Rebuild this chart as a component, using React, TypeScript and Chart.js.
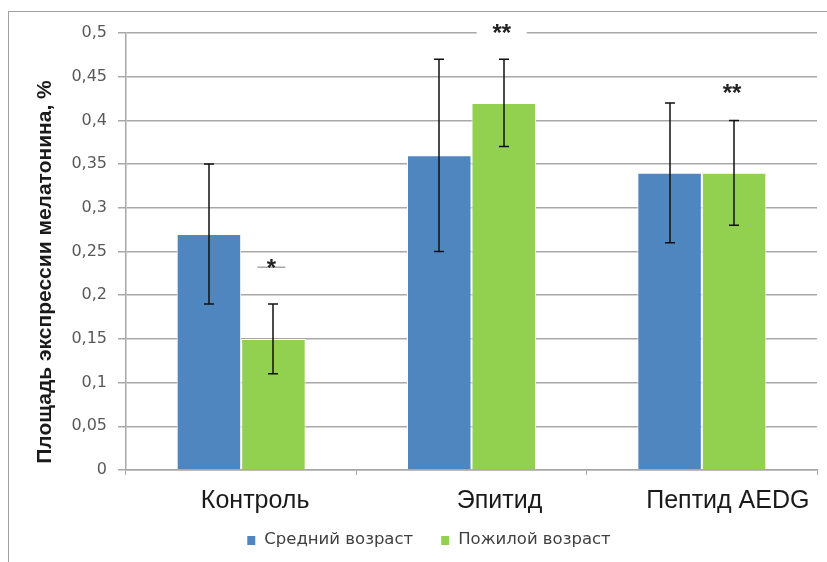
import React, { useEffect, useRef } from 'react';
import { Chart, registerables } from 'chart.js';

Chart.register(...registerables);

const categories = ['Контроль', 'Эпитид', 'Пептид AEDG'];
const seriesNames = ['Средний возраст', 'Пожилой возраст'];
const middleAge = [0.27, 0.36, 0.34];
const elderlyAge = [0.15, 0.42, 0.34];
const middleErrLow = [0.19, 0.25, 0.26];
const middleErrHigh = [0.35, 0.47, 0.42];
const elderlyErrLow = [0.11, 0.37, 0.28];
const elderlyErrHigh = [0.19, 0.47, 0.40];
const sigMarks = ['*', '**', '**'];
const sigValues = [0.232, 0.501, 0.432];
const yTickLabels = ['0', '0,05', '0,1', '0,15', '0,2', '0,25', '0,3', '0,35', '0,4', '0,45', '0,5'];
const yTitle = 'Площадь экспрессии мелатонина, %';

const BLUE = '#4f86c0';
const GREEN = '#92d050';
const GRID = '#a8a8a8';

const xLabelShift = [14, 28, 26];
const sigDash = [true, false, false];

const overlay = {
  id: 'overlay',
  afterDatasetsDraw(chart: any) {
    const ctx = chart.ctx as CanvasRenderingContext2D;
    const y = chart.scales.y;
    const errs = [
      [middleErrLow, middleErrHigh],
      [elderlyErrLow, elderlyErrHigh],
    ];
    ctx.save();
    ctx.strokeStyle = '#111';
    ctx.lineWidth = 1.5;
    errs.forEach(([lo, hi], di) => {
      const meta = chart.getDatasetMeta(di);
      meta.data.forEach((bar: any, i: number) => {
        const cx = Math.round(bar.x);
        const yl = y.getPixelForValue(lo[i]);
        const yh = y.getPixelForValue(hi[i]);
        ctx.beginPath();
        ctx.moveTo(cx, yh);
        ctx.lineTo(cx, yl);
        ctx.moveTo(cx - 5, yh);
        ctx.lineTo(cx + 5, yh);
        ctx.moveTo(cx - 5, yl);
        ctx.lineTo(cx + 5, yl);
        ctx.stroke();
      });
    });
    // significance marks over the elderly bars
    const meta1 = chart.getDatasetMeta(1);
    ctx.font = 'bold 24px "Liberation Sans"';
    ctx.textAlign = 'center';
    ctx.textBaseline = 'alphabetic';
    sigMarks.forEach((m, i) => {
      const cx = meta1.data[i].x - 2;
      const cy = y.getPixelForValue(sigValues[i]);
      ctx.fillStyle = '#fff';
      ctx.fillRect(cx - 25, cy - 5, 50, 10);
      if (sigDash[i]) {
        ctx.strokeStyle = GRID;
        ctx.lineWidth = 1.5;
        ctx.beginPath();
        ctx.moveTo(cx - 14, cy);
        ctx.lineTo(cx + 14, cy);
        ctx.stroke();
      }
      ctx.fillStyle = '#222';
      ctx.fillText(m, cx, cy + 9);
    });
    ctx.restore();
  },
  afterDraw(chart: any) {
    const ctx = chart.ctx as CanvasRenderingContext2D;
    const x = chart.scales.x;
    ctx.save();
    // category labels
    ctx.font = '25px "Liberation Sans"';
    ctx.fillStyle = '#1a1a1a';
    ctx.textAlign = 'center';
    ctx.textBaseline = 'alphabetic';
    categories.forEach((c, i) => {
      ctx.fillText(c, x.getPixelForValue(i) + xLabelShift[i], 496);
    });
    // y title
    ctx.font = 'bold 21px "Liberation Sans"';
    ctx.fillStyle = '#1a1a1a';
    ctx.translate(36, 260);
    ctx.rotate(-Math.PI / 2);
    ctx.textBaseline = 'middle';
    ctx.fillText(yTitle, 0, 0);
    ctx.setTransform(1, 0, 0, 1, 0, 0);
    // legend
    ctx.font = '16.5px "DejaVu Sans"';
    ctx.textAlign = 'left';
    ctx.textBaseline = 'middle';
    const colors = [BLUE, GREEN];
    const box = 8;
    const gapText = 9;
    const gapItem = 28;
    const widths = seriesNames.map((s) => ctx.measureText(s).width);
    const total = widths.reduce((a, w) => a + box + gapText + w, 0) + gapItem;
    let px = 420 - total / 2;
    const ly = 528;
    seriesNames.forEach((s, i) => {
      ctx.fillStyle = colors[i];
      ctx.fillRect(px, ly - 4, box, box + 1);
      ctx.fillStyle = '#404040';
      ctx.fillText(s, px + box + gapText, ly);
      px += box + gapText + widths[i] + gapItem;
    });
    ctx.restore();
  },
};

export default function App() {
  const ref = useRef<HTMLCanvasElement>(null);
  useEffect(() => {
    if (!ref.current) return;
    Chart.defaults.font.family = '"DejaVu Sans"';
    const chart = new Chart(ref.current, {
      type: 'bar',
      data: {
        labels: categories,
        datasets: [
          {
            label: seriesNames[0],
            data: middleAge,
            backgroundColor: BLUE,
            borderColor: '#ffffff',
            borderWidth: 1,
            categoryPercentage: 0.56,
            barPercentage: 1,
          },
          {
            label: seriesNames[1],
            data: elderlyAge,
            backgroundColor: GREEN,
            borderColor: '#ffffff',
            borderWidth: 1,
            categoryPercentage: 0.56,
            barPercentage: 1,
          },
        ],
      },
      options: {
        responsive: false,
        animation: false,
        layout: { padding: { left: 0, right: 10, top: 21, bottom: 0 } },
        plugins: {
          legend: { display: false },
          tooltip: { enabled: false },
          title: { display: false },
        },
        scales: {
          x: {
            grid: {
              display: true,
              drawOnChartArea: false,
              drawTicks: true,
              tickLength: 5,
              color: GRID,
              offset: true,
            },
            border: { display: true, color: GRID, width: 1.5 },
            ticks: { display: false },
            afterFit: (s: any) => {
              s.height = 92;
            },
          },
          y: {
            min: 0,
            max: 0.5,
            grid: { color: GRID, lineWidth: 1.5, tickLength: 8, drawTicks: true },
            border: { display: true, color: GRID, width: 1.5 },
            ticks: {
              stepSize: 0.05,
              padding: 11,
              color: '#595959',
              font: { size: 16, family: '"DejaVu Sans"' },
              callback: (_v: any, i: number) => yTickLabels[i],
            },
            afterFit: (s: any) => {
              s.width = 117;
            },
          },
        },
      },
      plugins: [overlay],
    });
    return () => chart.destroy();
  }, []);
  return (
    <div
      style={{
        position: 'fixed',
        left: 8,
        top: 11,
        width: 818,
        height: 551,
        borderTop: '1px solid #a0a0a0',
        borderLeft: '1px solid #a0a0a0',
        background: '#fff',
      }}
    >
      <canvas ref={ref} width={818} height={550} style={{ display: 'block' }} />
    </div>
  );
}
